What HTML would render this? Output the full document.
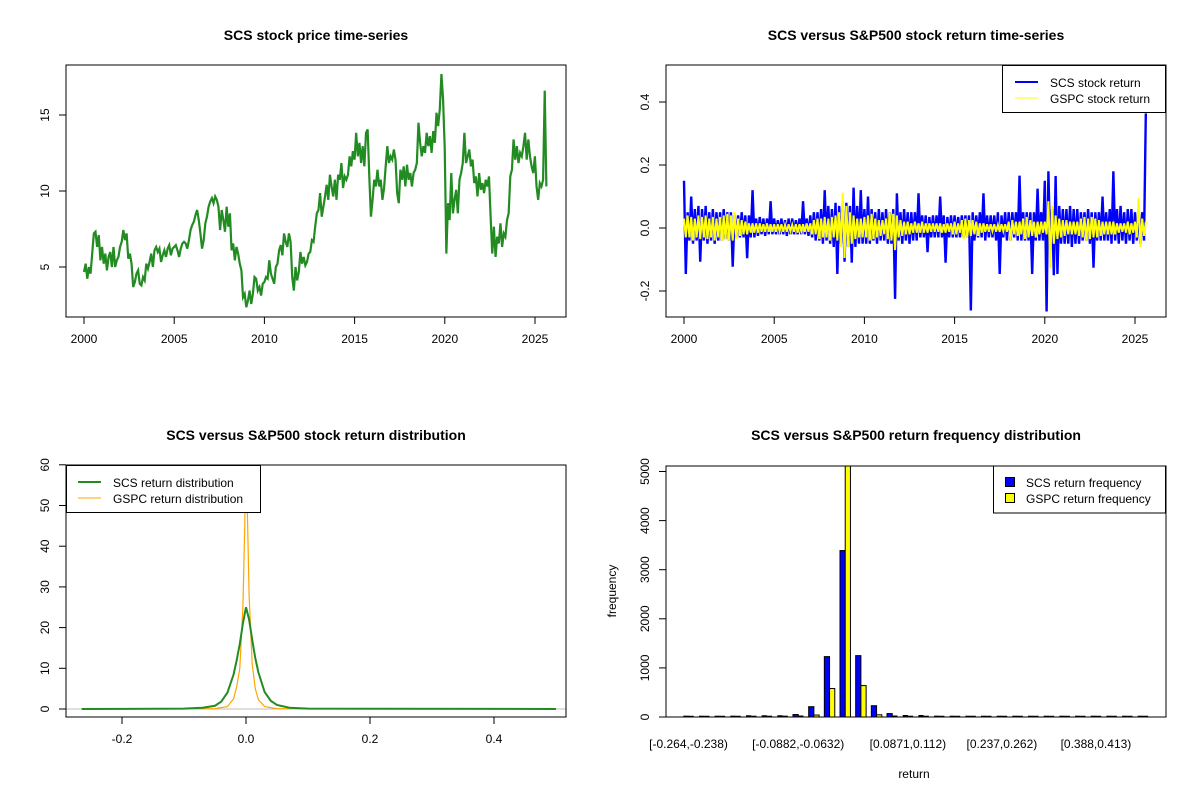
<!DOCTYPE html>
<html><head><meta charset="utf-8"><title>SCS charts</title>
<style>
html,body{margin:0;padding:0;background:#fff;}
svg{display:block;font-family:"Liberation Sans",Arial,sans-serif;}
</style></head>
<body>
<svg id="c" width="1200" height="800" viewBox="0 0 1200 800">
<rect x="0" y="0" width="1200" height="800" fill="#fff"/>
<defs>
<clipPath id="cp1"><rect x="66" y="65" width="500" height="252"/></clipPath>
<clipPath id="cp2"><rect x="666" y="65" width="500" height="252"/></clipPath>
<clipPath id="cp3"><rect x="66" y="465" width="500" height="252"/></clipPath>
<clipPath id="cp4"><rect x="666" y="466" width="500" height="252"/></clipPath>
</defs>
</svg>
<script>
// ---------- data ----------
const priceStart = 2000.0, priceEnd = 2025.63;
const scsPrice = [4.67,5.22,4.23,5.00,4.56,5.88,7.21,7.32,6.32,7.10,5.44,6.32,5.22,5.88,4.78,5.66,5.99,5.00,6.32,5.00,5.44,5.66,6.32,6.66,7.43,6.77,7.21,5.55,5.88,5.22,3.68,4.01,4.56,4.78,3.90,3.79,4.34,4.12,5.22,4.89,5.33,5.88,5.00,6.10,6.32,5.99,6.21,5.33,5.77,6.10,5.66,6.21,6.44,5.77,6.21,6.32,6.44,6.10,5.66,6.21,6.55,6.66,6.55,6.21,6.77,7.43,7.76,7.98,8.42,8.75,8.09,7.21,6.21,6.77,7.87,8.31,8.97,9.31,9.53,9.20,9.64,9.42,8.97,7.43,8.75,8.09,7.32,8.97,7.65,8.53,6.10,6.55,5.44,6.32,5.88,5.22,4.78,3.01,3.23,2.35,2.79,3.45,2.57,3.23,4.34,4.23,3.45,3.68,3.12,3.90,4.01,4.34,4.23,5.44,4.56,4.23,3.90,5.00,5.22,6.10,6.44,5.77,7.21,6.66,6.32,7.21,6.66,4.34,3.45,5.00,4.12,4.67,5.99,5.22,5.66,5.11,5.33,5.88,5.99,6.77,6.66,7.65,8.53,8.75,9.86,8.31,8.97,9.64,10.41,9.42,11.07,10.30,9.64,10.74,9.42,11.07,10.74,11.84,10.19,10.96,10.74,11.07,12.28,11.62,12.62,12.06,13.83,12.28,13.17,11.84,12.95,11.62,13.83,14.05,10.96,8.31,9.42,10.74,10.30,11.40,10.30,10.74,9.42,10.19,11.62,12.95,11.84,12.28,12.06,12.73,12.06,9.86,9.20,11.40,10.74,11.62,10.30,11.73,10.74,11.18,10.30,11.18,11.40,11.84,14.49,13.17,12.28,12.95,12.51,13.83,12.95,13.61,12.51,13.94,13.17,15.15,14.27,15.38,17.69,16.04,12.84,5.88,9.20,8.09,11.18,8.53,9.42,10.08,8.53,10.74,11.18,11.84,13.83,11.84,12.28,12.73,11.62,12.06,10.52,10.96,9.64,11.18,10.08,10.52,9.86,10.74,10.30,10.96,8.31,5.88,7.65,5.66,6.99,6.55,7.87,6.32,7.21,6.99,8.09,8.53,10.96,11.40,13.39,12.06,12.95,11.84,12.51,12.28,12.95,13.83,12.06,13.39,12.28,11.62,11.18,12.28,10.30,9.42,10.52,10.30,10.74,16.6,10.30];
const priceXTicks = [2000,2005,2010,2015,2020,2025];
const priceYTicks = [5,10,15];

const retStart = 2000.0, retStep = 0.1;
const scsReturn = [
.15,-.146,.05,-.04,.1,-.05,.06,-.04,.07,-.107,
.06,-.04,.07,-.05,.05,-.04,.06,-.05,.05,-.04,
.05,-.04,.06,-.035,.05,-.04,.05,-.123,.04,-.03,
.04,-.03,.05,-.03,.04,-.096,.04,-.03,.12,-.03,
.03,-.025,.035,-.02,.03,-.025,.03,-.02,.085,-.02,
.03,-.02,.025,-.02,.03,-.02,.025,-.025,.03,-.02,
.03,-.02,.025,-.02,.03,-.02,.085,-.02,.03,-.025,
.04,-.03,.05,-.04,.05,-.04,.06,-.05,.12,-.04,
.07,-.05,.06,-.06,.08,-.146,.07,-.05,.08,-.107,
.08,-.06,.07,-.11,.128,-.06,.07,-.05,.12,-.05,
.06,-.05,.1,-.05,.06,-.04,.05,-.05,.06,-.04,
.05,-.04,.06,-.05,.05,-.05,.06,-.225,.11,-.04,
.05,-.05,.06,-.04,.05,-.05,.05,-.04,.05,-.04,
.11,-.03,.04,-.03,.04,-.077,.035,-.03,.04,-.03,
.04,-.03,.1,-.03,.04,-.11,.035,-.03,.04,-.03,
.04,-.03,.035,-.03,.04,-.03,.04,-.03,.04,-.262,
.05,-.04,.04,-.03,.05,-.03,.11,-.04,.04,-.03,
.04,-.03,.04,-.04,.05,-.146,.04,-.03,.05,-.04,
.05,-.04,.05,-.03,.05,-.04,.166,-.04,.05,-.04,
.05,-.04,.05,-.146,.05,-.04,.125,-.04,.05,-.04,
.15,-.265,.18,-.08,.06,-.15,.165,-.146,.07,-.05,
.06,-.05,.06,-.05,.07,-.06,.06,-.05,.06,-.05,
.05,-.04,.05,-.04,.06,-.05,.05,-.126,.05,-.04,
.05,-.04,.1,-.04,.05,-.04,.06,-.05,.18,-.04,
.06,-.05,.07,-.04,.05,-.05,.06,-.04,.06,-.05,
.05,-.04,.06,-.05,.05,-.04,.364];
const gspcReturn = [
.03,-.03,.04,-.03,.035,-.04,.03,-.03,.04,-.035,
.035,-.03,.04,-.035,.03,-.03,.035,-.04,.03,-.03,
.035,-.04,.04,-.035,.045,-.04,.04,-.04,.05,-.035,
.03,-.025,.025,-.02,.02,-.02,.015,-.015,.015,-.015,
.015,-.015,.015,-.012,.012,-.012,.015,-.012,.012,-.012,
.012,-.012,.012,-.01,.012,-.012,.01,-.012,.012,-.01,
.01,-.012,.012,-.015,.012,-.01,.012,-.012,.015,-.012,
.015,-.02,.025,-.02,.03,-.035,.03,-.03,.035,-.03,
.03,-.04,.035,-.03,.04,-.04,.05,-.06,.112,-.095,
.07,-.06,.05,-.05,.04,-.035,.03,-.03,.03,-.03,
.035,-.03,.04,-.04,.045,-.035,.03,-.03,.025,-.025,
.025,-.02,.03,-.035,.05,-.04,.045,-.07,.04,-.03,
.025,-.025,.02,-.02,.02,-.02,.015,-.015,.02,-.015,
.015,-.015,.02,-.015,.015,-.015,.015,-.012,.015,-.012,
.015,-.012,.015,-.015,.012,-.015,.015,-.012,.015,-.02,
.02,-.02,.015,-.015,.025,-.035,.03,-.03,.025,-.025,
.025,-.02,.02,-.025,.015,-.015,.015,-.012,.012,-.012,
.012,-.01,.012,-.012,.01,-.012,.012,-.01,.012,-.012,
.02,-.04,.025,-.02,.02,-.025,.02,-.02,.03,-.035,
.035,-.03,.025,-.025,.02,-.03,.02,-.02,.02,-.015,
.02,-.02,.085,-.128,.07,-.05,.04,-.035,.03,-.03,
.025,-.025,.025,-.02,.02,-.02,.02,-.02,.02,-.025,
.03,-.03,.035,-.04,.03,-.035,.035,-.03,.03,-.03,
.025,-.025,.02,-.02,.02,-.02,.02,-.02,.02,-.02,
.015,-.015,.015,-.012,.015,-.015,.02,-.02,.015,-.015,
.02,-.03,.095,-.06,.03,-.025,.02];
const retYTicks = [-0.2,0.0,0.2,0.4];
const retYLabels = ["-0.2","0.0","0.2","0.4"];

const scsDensX = [-0.265,-0.1,-0.07,-0.05,-0.04,-0.03,-0.02,-0.015,-0.01,-0.005,0,0.005,0.01,0.015,0.02,0.03,0.04,0.05,0.07,0.1,0.5];
const scsDensY = [0,0.1,0.3,0.8,1.8,4,8.5,12,16,21,25,22,17,12.5,9,4.2,2,1,0.3,0.1,0];
const gspcDensX = [-0.265,-0.05,-0.03,-0.02,-0.015,-0.01,-0.005,-0.002,0,0.002,0.005,0.01,0.015,0.02,0.03,0.05,0.5];
const gspcDensY = [0,0.1,0.6,2.5,5.5,10,25,45,68,50,28,11,5,2.3,0.6,0.1,0];
const densXTicks = [-0.2,0,0.2,0.4];
const densXLabels = ["-0.2","0.0","0.2","0.4"];
const densYTicks = [0,10,20,30,40,50,60];

const histBins = ["[-0.264,-0.238)","[-0.238,-0.213)","[-0.213,-0.188)","[-0.188,-0.163)","[-0.163,-0.138)","[-0.138,-0.113)","[-0.113,-0.0882)","[-0.0882,-0.0632)","[-0.0632,-0.0382)","[-0.0382,-0.0132)","[-0.0132,0.0118)","[0.0118,0.0368)","[0.0368,0.0618)","[0.0618,0.0871)","[0.0871,0.112)","[0.112,0.137)","[0.137,0.162)","[0.162,0.187)","[0.187,0.212)","[0.212,0.237)","[0.237,0.262)","[0.262,0.287)","[0.287,0.312)","[0.312,0.337)","[0.337,0.362)","[0.362,0.388)","[0.388,0.413)","[0.413,0.438)","[0.438,0.463)","[0.463,0.488)"];
const scsFreq  = [2,1,1,2,10,10,10,50,210,1230,3390,1250,230,70,15,15,2,1,1,1,1,1,1,1,1,1,1,1,1,1];
const gspcFreq = [0,0,0,0,1,1,2,5,40,580,5600,640,45,5,1,1,0,0,0,0,0,0,0,0,0,0,0,0,0,0];
const histLabelIdx = [0,7,14,20,26];
const histYTicks = [0,1000,2000,3000,4000,5000];

// ---------- helpers ----------
const svg = document.getElementById('c');
const NS = 'http://www.w3.org/2000/svg';
function mk(tag, attrs, parent){
  const e = document.createElementNS(NS, tag);
  for (const k in attrs) e.setAttribute(k, attrs[k]);
  (parent||svg).appendChild(e);
  return e;
}
function txt(s, x, y, opts, parent){
  const e = mk('text', Object.assign({x:x, y:y, 'font-size':12, fill:'#000', 'text-anchor':'middle'}, opts||{}), parent);
  e.textContent = s;
  return e;
}
function box(x,y,w,h,name){
  const r = mk('rect',{x:x,y:y,width:w,height:h,fill:'none',stroke:'#000','stroke-width':1});
  
  
}
function xTick(x, yb, label, name){
  const l = mk('line',{x1:x,y1:yb,x2:x,y2:yb+7,stroke:'#000'});
  
  
  const t = txt(label, x, yb+26);
  
  
}
function yTick(xl, y, label, name){
  const l = mk('line',{x1:xl,y1:y,x2:xl-7,y2:y,stroke:'#000'});
  
  
  const t = txt(label, xl-17, y, {transform:'rotate(-90 '+(xl-17)+' '+y+')'});
  
  
}
function title(s, x, y, name){
  const t = txt(s, x, y, {'font-size':14,'font-weight':'bold'});
  
  
}

// ---------- panel 1: price ----------
const p1x = yr => 84 + (yr-2000)*18.04;
const p1y = p => 267 - (p-5)*15.2;
title('SCS stock price time-series', 316, 40, 'price-chart-title');
(function(){
  const g = mk('g',{'clip-path':'url(#cp1)'});
  
  
  const step = (priceEnd-priceStart)/(scsPrice.length-1);
  const pts = scsPrice.map((p,i)=> p1x(priceStart+i*step).toFixed(2)+','+p1y(p).toFixed(2)).join(' ');
  const pl = mk('polyline',{points:pts,fill:'none',stroke:'#228B22','stroke-width':2.2,'stroke-linejoin':'miter'},g);
  
  
  priceXTicks.forEach(v=>xTick(p1x(v),317,String(v),'price-x-axis'));
  priceYTicks.forEach(v=>yTick(66,p1y(v),String(v),'price-y-axis'));
  box(66,65,500,252,'price-plot-frame');
})();

// ---------- panel 2: returns ----------
const p2x = yr => 684 + (yr-2000)*18.04;
const p2y = r => 228 - r*315;
title('SCS versus S&P500 stock return time-series', 916, 40, 'return-chart-title');
(function(){
  const g = mk('g',{'clip-path':'url(#cp2)'});
  
  
  const ptsS = scsReturn.map((r,i)=> p2x(retStart+i*retStep).toFixed(2)+','+p2y(r).toFixed(2)).join(' ');
  const s = mk('polyline',{points:ptsS,fill:'none',stroke:'#0000FF','stroke-width':2.4},g);
  
  
  const ptsG = gspcReturn.map((r,i)=> p2x(retStart+i*retStep).toFixed(2)+','+p2y(r).toFixed(2)).join(' ');
  const y2 = mk('polyline',{points:ptsG,fill:'none',stroke:'#FFFF00','stroke-width':2},g);
  
  
  priceXTicks.forEach(v=>xTick(p2x(v),317,String(v),'return-x-axis'));
  retYTicks.forEach((v,i)=>yTick(666,p2y(v),retYLabels[i],'return-y-axis'));
  box(666,65,500,252,'return-plot-frame');
  const lg = mk('g',{});
  
  
  mk('rect',{x:1002.5,y:65.5,width:163,height:47,fill:'#fff',stroke:'#000'},lg);
  mk('line',{x1:1015,y1:82,x2:1038,y2:82,stroke:'#0000FF','stroke-width':2},lg);
  mk('line',{x1:1015,y1:98,x2:1038,y2:98,stroke:'#FFFF00','stroke-width':1},lg);
  const a = txt('SCS stock return',1050,87,{'text-anchor':'start'},lg);
  
  
  const b = txt('GSPC stock return',1050,103,{'text-anchor':'start'},lg);
  
  
})();

// ---------- panel 3: density ----------
const p3x = v => 246 + v*620;
const p3y = d => 709 - d*4.07;
title('SCS versus S&P500 stock return distribution', 316, 440, 'density-chart-title');
(function(){
  const g = mk('g',{'clip-path':'url(#cp3)'});
  
  
  const base = mk('line',{x1:66,y1:p3y(0),x2:566,y2:p3y(0),stroke:'#bebebe','stroke-width':1},g);
  
  
  const pg = gspcDensX.map((v,i)=>p3x(v).toFixed(2)+','+p3y(gspcDensY[i]).toFixed(2)).join(' ');
  const o = mk('polyline',{points:pg,fill:'none',stroke:'#FFA500','stroke-width':1.2},g);
  
  
  const ps = scsDensX.map((v,i)=>p3x(v).toFixed(2)+','+p3y(scsDensY[i]).toFixed(2)).join(' ');
  const s = mk('polyline',{points:ps,fill:'none',stroke:'#228B22','stroke-width':2},g);
  
  
  densXTicks.forEach((v,i)=>xTick(p3x(v),717,densXLabels[i],'density-x-axis'));
  densYTicks.forEach(v=>yTick(66,p3y(v),String(v),'density-y-axis'));
  box(66,465,500,252,'density-plot-frame');
  const lg = mk('g',{});
  
  
  mk('rect',{x:66.5,y:465.5,width:194,height:47,fill:'#fff',stroke:'#000'},lg);
  mk('line',{x1:78,y1:482,x2:101,y2:482,stroke:'#228B22','stroke-width':2},lg);
  mk('line',{x1:78,y1:498,x2:101,y2:498,stroke:'#FFA500','stroke-width':1},lg);
  const a = txt('SCS return distribution',113,487,{'text-anchor':'start'},lg);
  
  
  const b = txt('GSPC return distribution',113,503,{'text-anchor':'start'},lg);
  
  
})();

// ---------- panel 4: histogram ----------
const gw = 15.67, bw = gw/3, g0 = 683.3;
const p4y = c => 717 - c*0.0491;
title('SCS versus S&P500 return frequency distribution', 916, 440, 'histogram-chart-title');
(function(){
  const g = mk('g',{'clip-path':'url(#cp4)'});
  
  
  histBins.forEach((b,i)=>{
    const x = g0 + i*gw;
    const hs = scsFreq[i]*0.0491, hg = gspcFreq[i]*0.0491;
    if (hs >= 1) {
      const r1 = mk('rect',{x:x,y:p4y(scsFreq[i]),width:bw,height:hs,fill:'#0000FF',stroke:'#000','stroke-width':1},g);
      
      
    } else {
      const r1 = mk('line',{x1:x,y1:p4y(scsFreq[i])-0.5,x2:x+bw,y2:p4y(scsFreq[i])-0.5,stroke:'#000','stroke-width':1.5},g);
      
      
    }
    if (hg >= 1) {
      const r2 = mk('rect',{x:x+bw,y:p4y(gspcFreq[i]),width:bw,height:hg,fill:'#FFFF00',stroke:'#000','stroke-width':1},g);
      
      
    } else {
      const r2 = mk('line',{x1:x+bw,y1:p4y(gspcFreq[i])-0.5,x2:x+2*bw,y2:p4y(gspcFreq[i])-0.5,stroke:'#000','stroke-width':1.5},g);
      
      
    }
  });
  histLabelIdx.forEach(i=>{
    const t = txt(histBins[i], g0 + i*gw + bw, 748);
    
    
  });
  histYTicks.forEach(v=>yTick(666,p4y(v),String(v),'histogram-y-axis'));
  box(666,466,500,251,'histogram-plot-frame');
  const yt = txt('frequency',616,591,{transform:'rotate(-90 616 591)'});
  
  
  const xt = txt('return',914,778);
  
  
  const lg = mk('g',{});
  
  
  mk('rect',{x:993.5,y:466,width:172,height:47,fill:'#fff',stroke:'#000'},lg);
  mk('rect',{x:1005.5,y:477.5,width:9,height:9,fill:'#0000FF',stroke:'#000'},lg);
  mk('rect',{x:1005.5,y:493.5,width:9,height:9,fill:'#FFFF00',stroke:'#000'},lg);
  const a = txt('SCS return frequency',1026,487,{'text-anchor':'start'},lg);
  
  
  const b = txt('GSPC return frequency',1026,503,{'text-anchor':'start'},lg);
  
  
})();
</script>
</body></html>
